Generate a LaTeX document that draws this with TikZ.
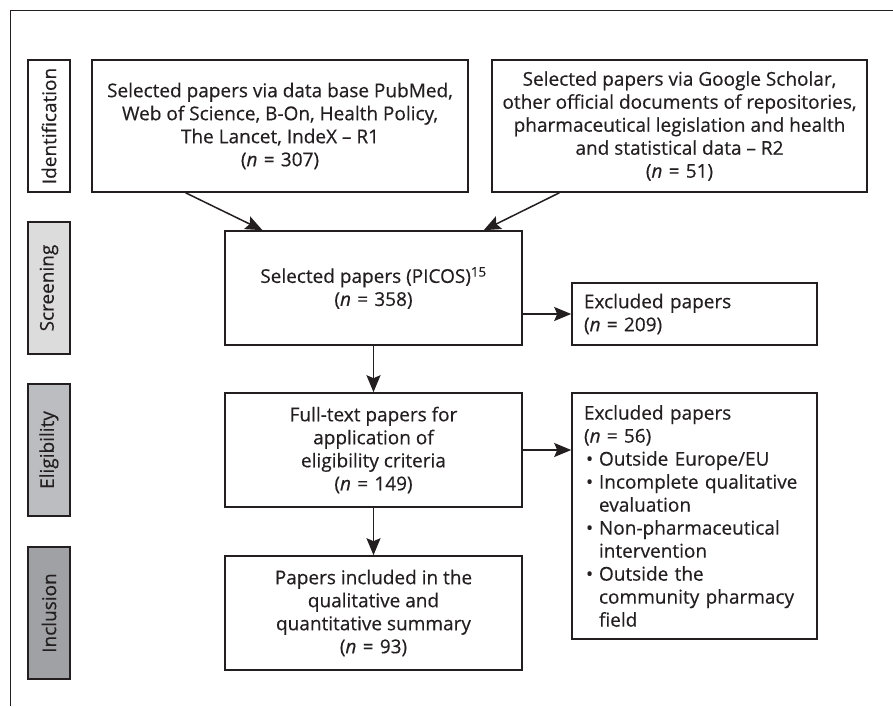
\documentclass[tikz,border=0pt]{standalone}
\usepackage{fontspec}
\setmainfont{Open Sans}[FakeBold=0.4]
\usetikzlibrary{arrows.meta,calc}
\definecolor{ink}{HTML}{231F20}
\definecolor{gscreen}{HTML}{DCDCDD}
\definecolor{gelig}{HTML}{BCBDC0}
\definecolor{gincl}{HTML}{A0A1A4}
\newcommand{\bul}{\makebox[15pt][l]{\hspace{2pt}•}}
\newcommand{\ind}{\hspace*{15pt}}
\newcommand{\nn}[1]{(\textit{n}\hspace{0.33em}=\hspace{0.33em}#1)}
\begin{document}
\begin{tikzpicture}[x=1pt,y=-1pt,
  every node/.style={font=\fontsize{19}{23}\selectfont, text=ink},
  boxc/.style={draw=ink, line width=1.6pt, inner sep=0pt, align=center},
  boxl/.style={draw=ink, line width=1.6pt, inner ysep=0pt, inner xsep=12pt, align=left},
  phase/.style={draw=ink, line width=1.6pt, inner sep=0pt, rotate=90,
     minimum width=132pt, minimum height=42pt},
  arr/.style={draw=ink, line width=1.5pt, -{Stealth[length=17pt,width=14pt,inset=3pt]}}
  ]
\useasboundingbox (0,0) rectangle (893,706);
\draw[ink, line width=0.9pt] (10,706) -- (10,10) -- (893,10);

\node[phase, fill=white]   (lid) at (49,126) {Identification};
\node[phase, fill=gscreen] (lsc) at (49,288) {Screening};
\node[phase, fill=gelig]   (lel) at (49,450) {Eligibility};
\node[phase, fill=gincl]   (lin) at (49,613) {Inclusion};

\node[boxc, minimum width=376pt, minimum height=132pt] (r1) at (280,126)
 {Selected papers via data base PubMed,\\Web of Science, B-On, Health Policy,\\The Lancet, IndeX – R1\\\nn{307}};
\node[boxc, minimum width=375pt, minimum height=132pt] (r2) at (679.5,126)
 {Selected papers via Google Scholar,\\other official documents of repositories,\\pharmaceutical legislation and health\\and statistical data – R2\\\nn{51}};
\node[boxc, minimum width=297pt, minimum height=114pt] (pic) at (373.5,288)
 {Selected papers (PICOS)\textsuperscript{15}\\\nn{358}};
\node[boxl, text width=221pt, minimum height=62pt] (ex1) at (694.5,314)
 {Excluded papers\\\nn{209}};
\node[boxc, minimum width=297pt, minimum height=114pt] (ft) at (373.5,450)
 {Full-text papers for\\application of\\eligibility criteria\\\nn{149}};
\node[boxl, text width=221pt, minimum height=246pt] (ex2) at (694.5,516)
 {Excluded papers\\\nn{56}\\\bul Outside Europe/EU\\\bul Incomplete qualitative\\\ind evaluation\\\bul Non-pharmaceutical\\\ind intervention\\\bul Outside the\\\ind community pharmacy\\\ind field};
\node[boxc, minimum width=297pt, minimum height=114pt] (inc) at (373.5,613)
 {Papers included in the\\qualitative and\\quantitative summary\\\nn{93}};

\draw[arr] ($(r1.south west)!0.25!(r1.south east)$) -- ($(pic.north west)!0.128!(pic.north east)$);
\draw[arr] ($(r2.south west)!0.181!(r2.south east)$) -- ($(pic.north west)!0.869!(pic.north east)$);
\draw[arr] (pic.south) -- (ft.north);
\draw[arr] (ft.south) -- (inc.north);
\draw[arr] (pic.east |- ex1.west) -- (ex1.west);
\draw[arr] (ft.east) -- (ft.east -| ex2.west);
\end{tikzpicture}
\end{document}
